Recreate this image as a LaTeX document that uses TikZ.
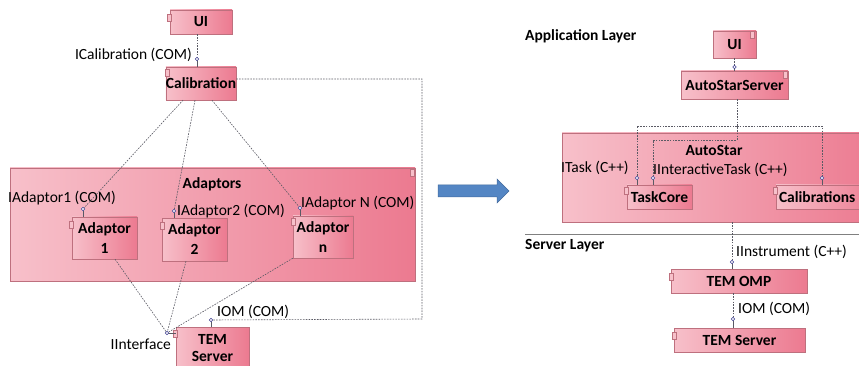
\documentclass[tikz,border=0pt]{standalone}
\usepackage{fontspec}
\setmainfont{Carlito}
\definecolor{pinklight}{RGB}{247,192,202}
\definecolor{pinkdark}{RGB}{236,122,144}
\definecolor{pinkedge}{RGB}{190,112,126}
\definecolor{wireg}{RGB}{90,90,100}
\definecolor{arrowblue}{RGB}{84,134,196}
% little UML component mark
\newcommand{\compicon}[2]{\draw[pinkedge, fill=pinklight, line width=0.4pt] (#1-2, #2-3.5) rectangle (#1+2, #2+3.5);}

\begin{document}
\begin{tikzpicture}[x=1pt, y=-1pt,
    comp/.style={draw=pinkedge, left color=pinklight, right color=pinkdark, inner sep=0pt,
        font=\fontsize{15.5}{20}\selectfont\bfseries, align=center},
    lbl/.style={inner sep=0pt, font=\fontsize{15.5}{18}\selectfont},
    head/.style={inner sep=0pt, font=\fontsize{15.5}{18}\selectfont\bfseries},
    wire/.style={wireg, line width=0.6pt, dash pattern=on 1.6pt off 1.2pt},
    stub/.style={wireg, line width=0.6pt},
    sock/.style={draw=wireg!70!blue, fill=white, line width=0.5pt}]
    \useasboundingbox (0,0) rectangle (859,366);

    % before
    \node[comp, minimum width=405, minimum height=113] (adaptors) at (212.5,224.5) {};
    \node[head] (adlbl) at (212,184) {Adaptors};
    \node[comp, minimum width=62, minimum height=24] (ui) at (201,22) {UI};
    \node[comp, minimum width=70, minimum height=33] (calib) at (201,83.5) {Calibration};
    \node[comp, minimum width=65, minimum height=42] (ad1) at (104.5,238) {Adaptor\\1};
    \node[comp, minimum width=65, minimum height=43] (ad2) at (194.5,239.5) {Adaptor\\2};
    \node[comp, minimum width=60, minimum height=42] (adn) at (323,237) {Adaptor\\n};
    \node[comp, minimum width=73, minimum height=42] (tems) at (212.5,348) {TEM\\[-3pt]Server};
    \compicon{169}{18} \compicon{167}{73} \compicon{71}{225} \compicon{162}{226}
    \compicon{293}{222} \compicon{412}{173} \compicon{175}{334}

    \node[lbl, anchor=east] (icalib) at (192,55) {ICalibration (COM)};
    \node[lbl, anchor=west] (iad1) at (8,198) {IAdaptor1 (COM)};
    \node[lbl, anchor=west] (iad2) at (177,211) {IAdaptor2 (COM)};
    \node[lbl, anchor=west] (iadn) at (301,203) {IAdaptor N (COM)};
    \node[lbl, anchor=east] (iif) at (171,344) {IInterface};
    \node[lbl, anchor=west] (iom) at (217,312) {IOM (COM)};

    \coordinate (s0) at (197,59);
    \coordinate (s1) at (83,209);
    \coordinate (s2) at (174,211);
    \coordinate (sn) at (300,208);
    \coordinate (sif) at (167,333);
    \coordinate (siom) at (211,320);
    \draw[wire] ([xshift=-4]ui.south) -- (s0);
    \draw[wire] ([xshift=-18]calib.south) -- (s1);
    \draw[wire] ([xshift=-6]calib.south) -- (s2);
    \draw[wire] ([xshift=11]calib.south) -- (sn);
    \draw[wire] ([xshift=10.5]ad1.south) -- (sif);
    \draw[wire] ([xshift=-8.5]ad2.south) -- (sif);
    \draw[wire] (adn.south west) -- (sif);
    \draw[wire] ([yshift=4.5]calib.east) -| (422,319) -- (siom);
    \draw[stub] (s0) -- (s0 |- calib.north);
    \draw[stub] (s1) -- (s1 |- ad1.north);
    \draw[stub] (s2) -- (s2 |- ad2.north);
    \draw[stub] (sn) -- (sn |- adn.north);
    \draw[stub] (sif) -- (sif -| tems.west);
    \draw[stub] (siom) -- (siom |- tems.north);
    \foreach \s in {s0,s1,s2,sn,sif,siom}
        \draw[sock] (\s) circle (1.8);

    % arrow
    \fill[arrowblue, draw=arrowblue!80!black, line width=0.5pt] (438,185) -- (497,185) -- (497,179)
        -- (509,191) -- (497,203) -- (497,197) -- (438,197) -- cycle;

    % after
    \node[head, anchor=west] (applayer) at (525,36) {Application Layer};
    \node[head, anchor=west] (srvlayer) at (525,246) {Server Layer};
    \draw[gray, line width=0.8pt] (525,234) -- (859,234);

    \node[comp, minimum width=318, minimum height=89] (autostar) at (721,177.5) {};
    \node[head] (aslbl) at (714,150) {AutoStar};
    \node[comp, minimum width=43, minimum height=27] (ui2) at (734.5,44.5) {UI};
    \node[comp, minimum width=107, minimum height=28] (ass) at (734.5,85) {AutoStarServer};
    \node[comp, minimum width=65, minimum height=24] (taskcore) at (659.5,197) {TaskCore};
    \node[comp, minimum width=104, minimum height=24, text width=98, align=left] (calibs) at (828,197) {Calibrations};
    \node[comp, minimum width=136, minimum height=24] (omp) at (739,281) {TEM OMP};
    \node[comp, minimum width=131, minimum height=24] (tems2) at (739.5,340) {TEM Server};
    \compicon{752}{35} \compicon{785}{75} \compicon{626}{191} \compicon{775}{191}
    \compicon{671}{277} \compicon{674}{336}

    \node[lbl, anchor=west] (itask) at (561,168) {ITask (C++)};
    \node[lbl, anchor=west] (iitask) at (653,170) {IInteractiveTask (C++)};
    \node[lbl, anchor=west] (iinstr) at (736,252) {IInstrument (C++)};
    \node[lbl, anchor=west] (iom2) at (738,309) {IOM (COM)};

    \coordinate (r0) at (734.5,67);
    \coordinate (jn) at (737,126);
    \coordinate (st) at (637,178);
    \coordinate (sit) at (653,178);
    \coordinate (sc) at (822,178);
    \coordinate (sin) at (732,262);
    \coordinate (sio) at (733,319);
    \draw[wire] (ui2.south) -- (r0);
    \draw[wire] ([xshift=2.5]ass.south) |- (653,140) -- (sit);
    \draw[wire] (jn) -| (st);
    \draw[wire] (jn) -| (sc);
    \draw[wire] ([xshift=11]autostar.south) -- (sin);
    \draw[wire] ([xshift=-6]omp.south) -- (sio);
    \draw[stub] (r0) -- (r0 |- ass.north);
    \draw[stub] (st) -- (st |- taskcore.north);
    \draw[stub] (sit) -- (sit |- taskcore.north);
    \draw[stub] (sc) -- (sc |- calibs.north);
    \draw[stub] (sin) -- (sin |- omp.north);
    \draw[stub] (sio) -- (sio |- tems2.north);
    \foreach \s in {r0,st,sit,sc,sin,sio}
        \draw[sock] (\s) circle (1.8);
\end{tikzpicture}
\end{document}
